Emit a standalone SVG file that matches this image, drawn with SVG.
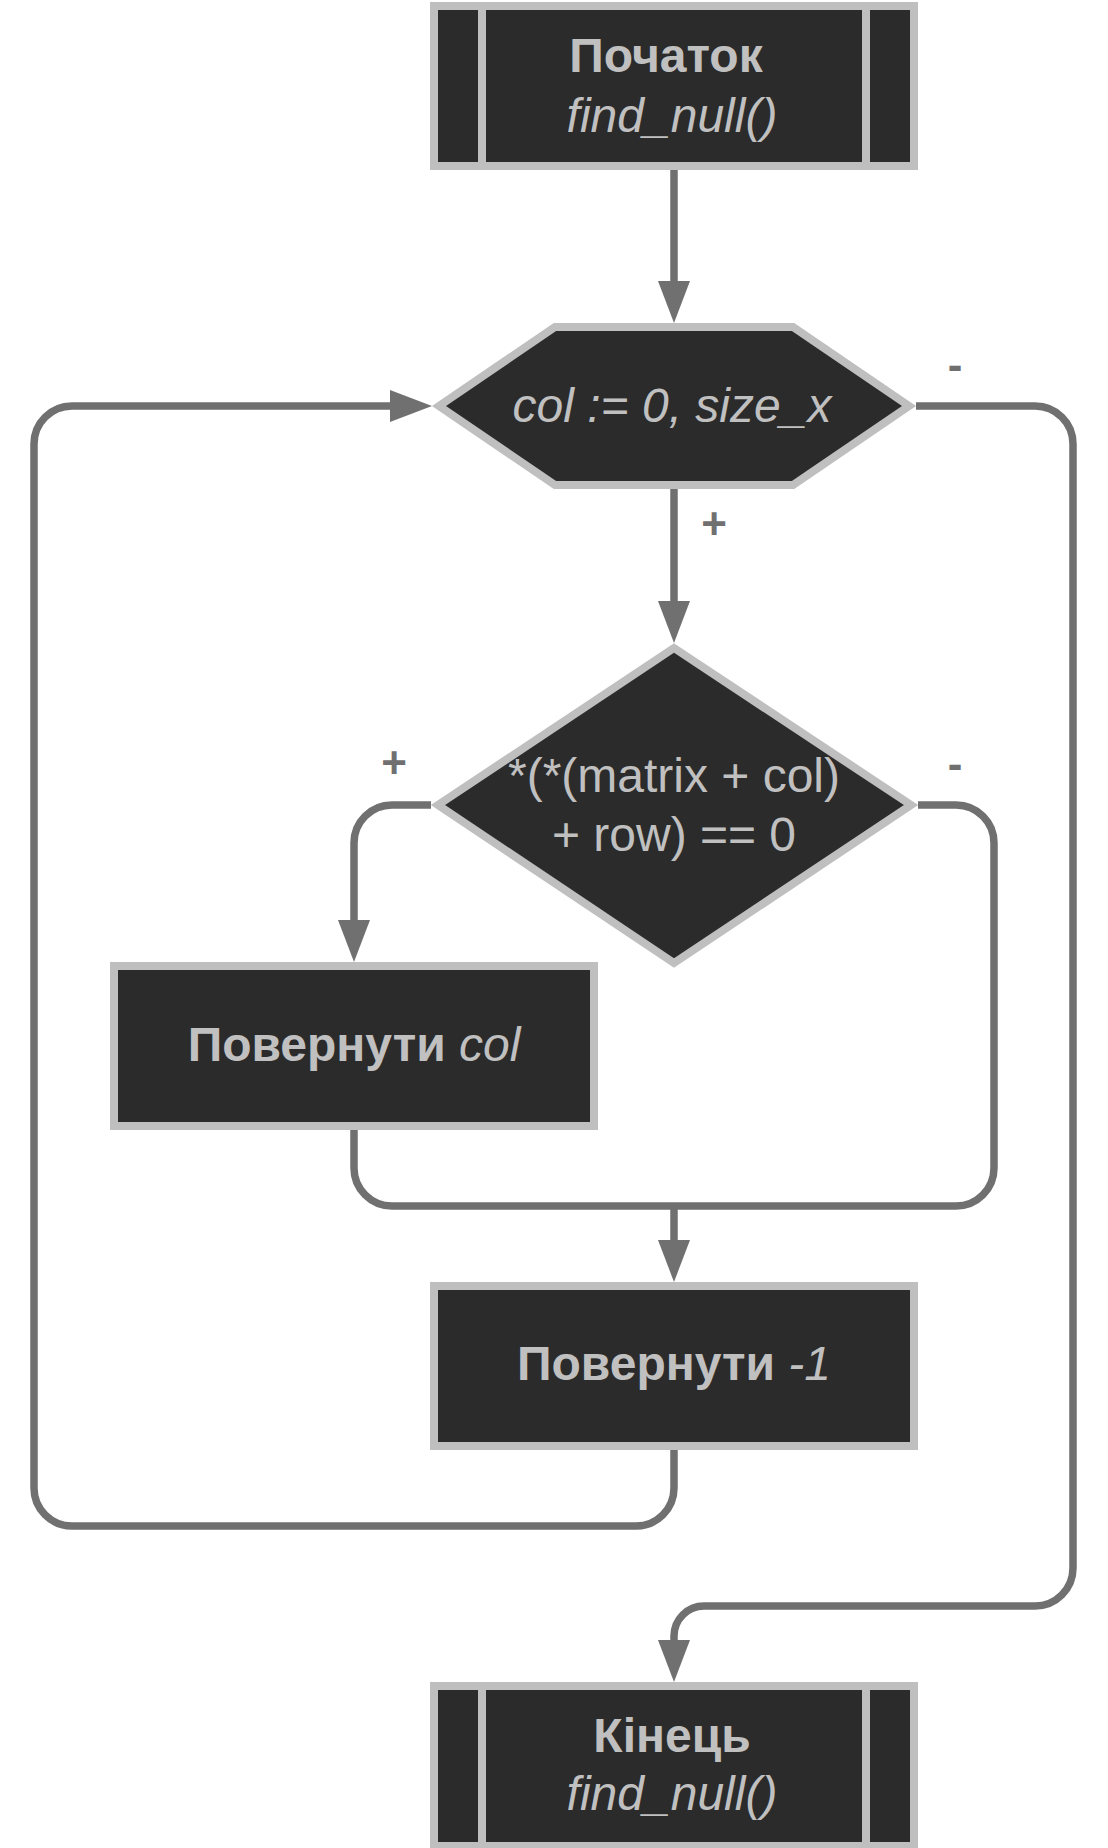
<svg xmlns="http://www.w3.org/2000/svg" width="1108" height="1848" viewBox="0 0 1108 1848">
<style>
.node{fill:#2b2b2b;stroke:#bfbfbf;stroke-width:8}
.sep{stroke:#bfbfbf;stroke-width:8}
.t{font-family:"Liberation Sans",Arial,sans-serif;font-size:48px;fill:#c0c0c0;text-anchor:middle}
.b{font-weight:bold}
.i{font-style:italic}
.conn{fill:none;stroke:#707070;stroke-width:7.5}
.lbl{font-family:"Liberation Sans",Arial,sans-serif;font-size:44px;font-weight:bold;fill:#707070;text-anchor:middle}
</style>
<defs>
<marker id="arr" markerUnits="userSpaceOnUse" markerWidth="42" markerHeight="32" viewBox="0 0 42 32" refX="0" refY="16" orient="auto">
<path d="M0,0 L42,16 L0,32 z" fill="#707070"/>
</marker>
</defs>
<rect width="1108" height="1848" fill="#ffffff"/>
<g id="connectors">
<path class="conn" d="M674,170 V281" marker-end="url(#arr)"/>
<path class="conn" d="M674,489 V601" marker-end="url(#arr)"/>
<path class="conn" d="M431,805 H392 A38,38 0 0 0 354,843 V920" marker-end="url(#arr)"/>
<path class="conn" d="M354,1130 V1168 A38,38 0 0 0 392,1206 H674"/>
<path class="conn" d="M918,805 H956 A38,38 0 0 1 994,843 V1168 A38,38 0 0 1 956,1206 H674"/>
<path class="conn" d="M674,1206 V1240" marker-end="url(#arr)"/>
<path class="conn" d="M674,1450 V1488 A38,38 0 0 1 636,1526 H72 A38,38 0 0 1 34,1488 V444 A38,38 0 0 1 72,406 H390" marker-end="url(#arr)"/>
<path class="conn" d="M916,406 H1035 A38,38 0 0 1 1073,444 V1568 A38,38 0 0 1 1035,1606 H704 A30,30 0 0 0 674,1636 V1640" marker-end="url(#arr)"/>
<text class="lbl" x="955" y="380">-</text>
<text class="lbl" x="714" y="539">+</text>
<text class="lbl" x="955" y="779">-</text>
<text class="lbl" x="394" y="778">+</text>
</g>
<g id="start">
<rect class="node" x="434" y="6" width="480" height="160"/>
<line class="sep" x1="482" y1="6" x2="482" y2="166"/>
<line class="sep" x1="866" y1="6" x2="866" y2="166"/>
<text class="t b" x="666" y="72">Початок</text>
<text class="t i" x="672" y="132">find_null()</text>
</g>
<g id="loop">
<polygon class="node" points="439,406 555,327 793,327 909,406 793,485 555,485"/>
<text class="t i" x="672" y="422">col := 0, size_x</text>
</g>
<g id="cond">
<polygon class="node" points="674,648 911,805 674,963 438,805"/>
<text class="t" x="674" y="792">*(*(matrix + col)</text>
<text class="t" x="674" y="851">+ row) == 0</text>
</g>
<g id="ret-col">
<rect class="node" x="114" y="966" width="480" height="160"/>
<text class="t" x="354" y="1061"><tspan class="b">Повернути </tspan><tspan class="i">col</tspan></text>
</g>
<g id="ret-neg">
<rect class="node" x="434" y="1286" width="480" height="160"/>
<text class="t" x="674" y="1380"><tspan class="b">Повернути </tspan><tspan class="i">-1</tspan></text>
</g>
<g id="end">
<rect class="node" x="434" y="1686" width="480" height="160"/>
<line class="sep" x1="482" y1="1686" x2="482" y2="1846"/>
<line class="sep" x1="866" y1="1686" x2="866" y2="1846"/>
<text class="t b" x="672" y="1752">Кінець</text>
<text class="t i" x="672" y="1810">find_null()</text>
</g>
</svg>
